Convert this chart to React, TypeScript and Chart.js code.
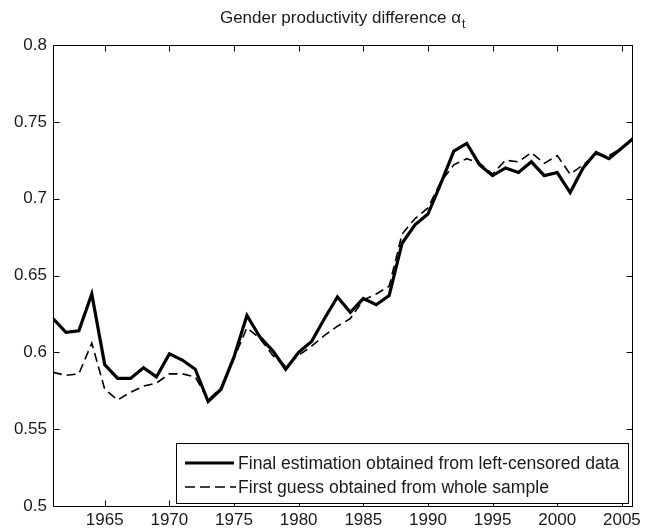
import React, { useEffect, useRef } from "react";
import { Chart, registerables } from "chart.js";

Chart.register(...registerables);

const years = [1961, 1962, 1963, 1964, 1965, 1966, 1967, 1968, 1969, 1970, 1971, 1972, 1973, 1974, 1975, 1976, 1977, 1978, 1979, 1980, 1981, 1982, 1983, 1984, 1985, 1986, 1987, 1988, 1989, 1990, 1991, 1992, 1993, 1994, 1995, 1996, 1997, 1998, 1999, 2000, 2001, 2002, 2003, 2004, 2005, 2006];

const finalEstimation = [0.622, 0.613, 0.614, 0.638, 0.592, 0.583, 0.583, 0.590, 0.584, 0.599, 0.595, 0.589, 0.568, 0.576, 0.597, 0.624, 0.610, 0.601, 0.589, 0.600, 0.607, 0.622, 0.636, 0.626, 0.635, 0.631, 0.637, 0.671, 0.683, 0.690, 0.710, 0.731, 0.736, 0.722, 0.715, 0.720, 0.717, 0.724, 0.715, 0.717, 0.704, 0.720, 0.730, 0.726, 0.733, 0.740];

const firstGuess = [0.587, 0.585, 0.586, 0.606, 0.576, 0.569, 0.574, 0.578, 0.580, 0.586, 0.586, 0.584, 0.569, 0.577, 0.596, 0.616, 0.609, 0.598, 0.591, 0.598, 0.604, 0.611, 0.617, 0.622, 0.634, 0.638, 0.643, 0.677, 0.687, 0.694, 0.711, 0.722, 0.726, 0.723, 0.716, 0.725, 0.724, 0.730, 0.723, 0.728, 0.716, 0.722, 0.729, 0.728, 0.733, 0.739];

const xTicks = [1965, 1970, 1975, 1980, 1985, 1990, 1995, 2000, 2005];
const yTicks = [0.5, 0.55, 0.6, 0.65, 0.7, 0.75, 0.8];
const yTickLabels = ["0.5", "0.55", "0.6", "0.65", "0.7", "0.75", "0.8"];

const legendLabels = ["Final estimation obtained from left-censored data", "First guess obtained from whole sample"];
const titleText = "Gender productivity difference \u03b1";
const titleSub = "t";

const FONT = "'Liberation Sans', Arial, sans-serif";
const TEXT_COLOR = "#1a1a1a";

const framePlugin = {
  id: "matlabFrame",
  afterDraw(chart: any) {
    const { ctx, chartArea } = chart;
    const { left, right, top, bottom } = chartArea;
    const xs = chart.scales.x;
    const ys = chart.scales.y;
    ctx.save();
    ctx.strokeStyle = "#000";
    ctx.lineWidth = 1;
    ctx.setLineDash([]);
    const L = Math.round(left) + 0.5;
    const R = Math.round(right) + 0.5;
    const T = Math.round(top) + 0.5;
    const B = Math.round(bottom) + 0.5;
    ctx.strokeRect(L, T, R - L, B - T);
    const tl = 6;
    ctx.beginPath();
    xTicks.forEach((v) => {
      const px = Math.round(xs.getPixelForValue(v)) + 0.5;
      ctx.moveTo(px, B);
      ctx.lineTo(px, B - tl);
      ctx.moveTo(px, T);
      ctx.lineTo(px, T + tl);
    });
    yTicks.forEach((v) => {
      const py = Math.round(ys.getPixelForValue(v)) + 0.5;
      ctx.moveTo(L, py);
      ctx.lineTo(L + tl, py);
      ctx.moveTo(R, py);
      ctx.lineTo(R - tl, py);
    });
    ctx.stroke();

    // Legend box
    const lx = 176, ly = 443, lw = 452, lh = 60;
    ctx.fillStyle = "#fff";
    ctx.fillRect(lx + 0.5, ly + 0.5, lw, lh);
    ctx.strokeRect(lx + 0.5, ly + 0.5, lw, lh);
    const rows = [ly + 20, ly + 44];
    ctx.beginPath();
    ctx.lineWidth = 3;
    ctx.moveTo(lx + 9, rows[0]);
    ctx.lineTo(lx + 58, rows[0]);
    ctx.stroke();
    ctx.beginPath();
    ctx.lineWidth = 1.7;
    ctx.setLineDash([10, 5]);
    ctx.moveTo(lx + 9, rows[1]);
    ctx.lineTo(lx + 60, rows[1]);
    ctx.stroke();
    ctx.setLineDash([]);
    ctx.fillStyle = TEXT_COLOR;
    ctx.font = "17.6px " + FONT;
    ctx.textBaseline = "middle";
    ctx.textAlign = "left";
    ctx.fillText(legendLabels[0], lx + 62, rows[0] + 1);
    ctx.fillText(legendLabels[1], lx + 62, rows[1] + 1);

    // Title
    ctx.font = "17px " + FONT;
    const w1 = ctx.measureText(titleText).width;
    ctx.font = "12px " + FONT;
    const w2 = ctx.measureText(titleSub).width;
    const total = w1 + w2 + 1;
    const cx = (left + right) / 2;
    const sx = cx - total / 2;
    ctx.font = "17px " + FONT;
    ctx.textBaseline = "alphabetic";
    ctx.fillText(titleText, sx, 23);
    ctx.font = "12px " + FONT;
    ctx.fillText(titleSub, sx + w1 + 1, 28);
    ctx.restore();
  },
};

export default function App() {
  const canvasRef = useRef<HTMLCanvasElement | null>(null);

  useEffect(() => {
    document.body.style.margin = "0";
    const canvas = canvasRef.current;
    if (!canvas) return;
    const chart = new Chart(canvas, {
      type: "line",
      data: {
        datasets: [
          {
            label: legendLabels[0],
            data: years.map((y, i) => ({ x: y, y: finalEstimation[i] })),
            borderColor: "#000",
            borderWidth: 3.2,
            pointRadius: 0,
            tension: 0,
            fill: false,
          },
          {
            label: legendLabels[1],
            data: years.map((y, i) => ({ x: y, y: firstGuess[i] })),
            borderColor: "#000",
            borderWidth: 1.6,
            borderDash: [9, 5],
            pointRadius: 0,
            tension: 0,
            fill: false,
          },
        ],
      },
      options: {
        animation: false,
        responsive: false,
        maintainAspectRatio: false,
        devicePixelRatio: 1,
        layout: { padding: { top: 45, right: 12, left: 0, bottom: 0 } },
        plugins: {
          legend: { display: false },
          title: { display: false },
          tooltip: { enabled: false },
        },
        scales: {
          x: {
            type: "linear",
            min: 1961,
            max: 2005.8,
            grid: { display: false, drawTicks: false },
            border: { display: false },
            afterBuildTicks: (scale: any) => {
              scale.ticks = xTicks.map((v) => ({ value: v }));
            },
            afterFit: (scale: any) => {
              scale.height = 24;
            },
            ticks: {
              autoSkip: false,
              maxRotation: 0,
              padding: 4,
              color: TEXT_COLOR,
              font: { family: FONT, size: 17 },
              callback: (v: any) => String(v),
            },
          },
          y: {
            type: "linear",
            min: 0.5,
            max: 0.8,
            grid: { display: false, drawTicks: false },
            border: { display: false },
            afterBuildTicks: (scale: any) => {
              scale.ticks = yTicks.map((v) => ({ value: v }));
            },
            afterFit: (scale: any) => {
              scale.width = 53;
            },
            ticks: {
              autoSkip: false,
              padding: 6,
              color: TEXT_COLOR,
              font: { family: FONT, size: 17 },
              callback: (v: any) => {
                const i = yTicks.findIndex((t) => Math.abs(t - Number(v)) < 1e-9);
                return i >= 0 ? yTickLabels[i] : "";
              },
            },
          },
        },
      },
      plugins: [framePlugin],
    });
    return () => chart.destroy();
  }, []);

  return (
    <div style={{ width: 645, height: 530, background: "#fff" }}>
      <canvas ref={canvasRef} width={645} height={530} style={{ display: "block" }} />
    </div>
  );
}
